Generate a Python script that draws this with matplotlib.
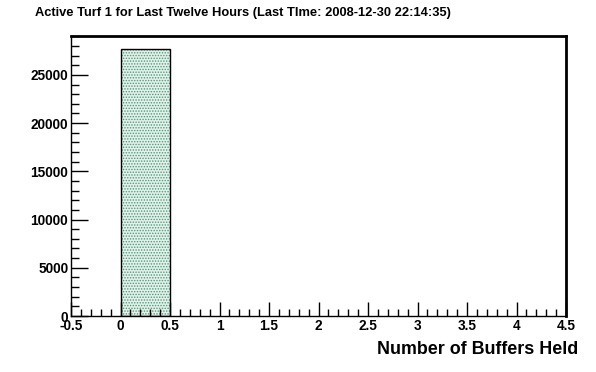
import matplotlib
matplotlib.use("Agg")
import matplotlib.pyplot as plt
from matplotlib.ticker import MultipleLocator

# histogram data
bin_edges = [0.0, 0.5]
counts = [27650]
title = "Active Turf 1 for Last Twelve Hours (Last TIme: 2008-12-30 22:14:35)"
x_label = "Number of Buffers Held"

plt.rcParams["font.family"] = ["Liberation Sans", "DejaVu Sans"]
plt.rcParams["font.weight"] = "bold"
plt.rcParams["hatch.linewidth"] = 0.7

fig = plt.figure(figsize=(5.96, 3.72), dpi=100)
ax = fig.add_axes([71 / 596, 1 - 316 / 372, (566 - 71) / 596, (316 - 36) / 372])

width = bin_edges[1] - bin_edges[0]
# hatched fill (hatch takes the edge colour)
ax.bar(bin_edges[0], counts[0], width=width, align="edge",
       facecolor="#e4f1ea", edgecolor="#4a9a7a", linewidth=0, hatch="......")
# black outline on top
ax.bar(bin_edges[0], counts[0], width=width, align="edge",
       facecolor="none", edgecolor="black", linewidth=1.0)

ax.set_xlim(-0.5, 4.5)
ax.set_ylim(0, max(counts) * 1.05)

ax.xaxis.set_major_locator(MultipleLocator(0.5))
ax.xaxis.set_minor_locator(MultipleLocator(0.1))
ax.yaxis.set_major_locator(MultipleLocator(5000))
ax.yaxis.set_minor_locator(MultipleLocator(1000))
ax.xaxis.set_major_formatter(plt.FuncFormatter(lambda v, p: f"{v:g}"))

ax.tick_params(axis="both", which="both", direction="in", top=False, right=False,
               labelsize=9.8, width=1)
ax.tick_params(axis="x", which="major", length=10, pad=2)
ax.tick_params(axis="x", which="minor", length=5)
ax.tick_params(axis="y", which="major", length=12, pad=2)
ax.tick_params(axis="y", which="minor", length=6)

for side in ["top", "right"]:
    ax.spines[side].set_linewidth(2)
for side in ["left", "bottom"]:
    ax.spines[side].set_linewidth(1)

fig.text(35 / 596, 1 - 13 / 372, title, fontsize=9.3, fontweight="bold", va="center", ha="left")
fig.text(578 / 596, 1 - 349 / 372, x_label, fontsize=12.9, fontweight="bold",
         va="center", ha="right")

fig.savefig("out.png", dpi=100)
